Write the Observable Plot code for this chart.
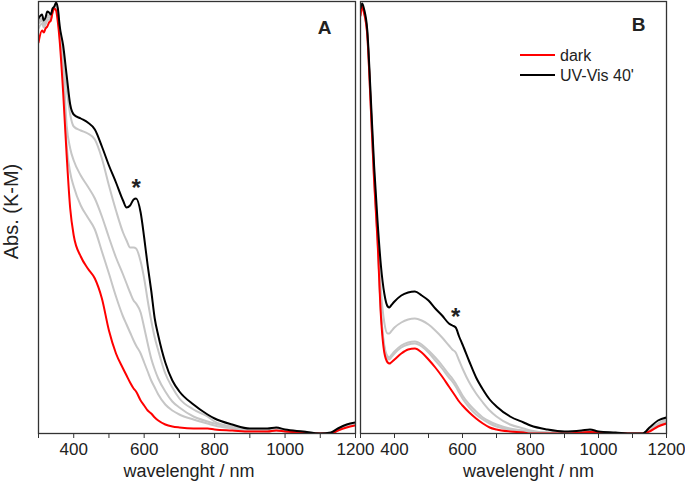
<!DOCTYPE html>
<html><head><meta charset="utf-8">
<script src="https://cdn.jsdelivr.net/npm/d3@7"></script>
<script src="https://cdn.jsdelivr.net/npm/@observablehq/plot@0.6"></script>
<style>
body{margin:0;background:#fff;}
#wrap{position:relative;width:685px;height:483px;font-family:"Liberation Sans",Arial,sans-serif;}
.panel{position:absolute;top:0;}
svg{overflow:visible;}
</style>
</head><body><div id="wrap"></div>
<script>
// ---- Panel A data (wavelength in nm, Kubelka-Munk absorbance, arbitrary units)
const wlA = [300,310,315,320,325,330,335,340,345,350,355,360,370,380,390,400,420,440,460,480,500,520,540,550,560,570,577,590,600,610,620,630,640,660,680,700,740,780,800,850,900,950,975,1000,1050,1100,1130,1150,1175,1200];
const darkA = [3.91,4.03,4.01,4.05,4.07,4.11,4.13,4.21,4.25,4.23,4.11,3.93,3.41,2.78,2.25,1.98,1.77,1.65,1.55,1.35,1.03,0.80,0.65,0.58,0.51,0.45,0.42,0.33,0.28,0.23,0.20,0.16,0.13,0.09,0.07,0.06,0.05,0.05,0.04,0.03,0.02,0.02,0.03,0.02,0.01,0,0,0.03,0.06,0.08];
const grey1A = [4.13,4.15,4.11,4.13,4.18,4.18,4.17,4.23,4.26,4.29,4.23,4.05,3.81,3.45,3.19,3.07,3.03,3.00,2.94,2.75,2.48,2.23,2.01,1.93,1.86,1.86,1.85,1.72,1.55,1.33,1.13,0.96,0.83,0.60,0.46,0.35,0.24,0.17,0.12,0.07,0.04,0.04,0.05,0.03,0.02,0,0,0.04,0.08,0.10];
const grey2A = [4.10,4.13,4.09,4.11,4.16,4.16,4.15,4.22,4.25,4.28,4.21,4.03,3.68,3.08,2.85,2.73,2.58,2.47,2.35,2.17,1.96,1.76,1.59,1.50,1.41,1.33,1.30,1.21,1.06,0.90,0.75,0.64,0.55,0.42,0.32,0.26,0.17,0.12,0.10,0.06,0.03,0.03,0.04,0.03,0.01,0,0,0.04,0.07,0.09];
const grey3A = [4.05,4.10,4.06,4.09,4.13,4.14,4.14,4.22,4.25,4.27,4.18,3.98,3.53,2.88,2.61,2.47,2.28,2.16,2.04,1.82,1.60,1.37,1.17,1.09,1.01,0.93,0.88,0.80,0.71,0.62,0.53,0.46,0.39,0.29,0.23,0.19,0.14,0.10,0.08,0.05,0.03,0.02,0.03,0.02,0.01,0,0,0.03,0.07,0.09];
const uvA = [4.15,4.19,4.13,4.16,4.22,4.21,4.19,4.25,4.27,4.31,4.25,4.08,3.88,3.58,3.29,3.19,3.15,3.11,3.04,2.87,2.68,2.51,2.33,2.26,2.28,2.34,2.35,2.21,1.96,1.68,1.43,1.15,0.98,0.71,0.53,0.42,0.29,0.19,0.15,0.09,0.05,0.05,0.06,0.04,0.02,0,0.01,0.05,0.09,0.11];

// ---- Panel B data
const wlB = [300,305,310,320,330,340,350,360,370,380,385,390,400,420,440,460,480,500,520,540,560,570,580,590,600,620,640,660,680,700,740,780,800,850,900,950,975,1000,1050,1100,1130,1150,1175,1200];
const darkB = [4.18,4.27,4.21,3.98,3.28,2.53,1.93,1.18,0.81,0.71,0.70,0.71,0.74,0.80,0.84,0.85,0.81,0.74,0.66,0.57,0.47,0.42,0.37,0.32,0.28,0.21,0.15,0.10,0.06,0.04,0.02,0.01,0,0,0,0.01,0.015,0.01,0,0,0,0.02,0.07,0.10];
const grey1B = [4.22,4.29,4.23,4.01,3.33,2.61,2.03,1.43,1.11,1.00,1.00,1.02,1.06,1.11,1.14,1.15,1.13,1.09,1.03,0.96,0.88,0.84,0.81,0.73,0.65,0.51,0.40,0.31,0.23,0.17,0.09,0.05,0.03,0.01,0.01,0.02,0.025,0.015,0,0,0,0.04,0.10,0.14];
const grey2B = [4.20,4.28,4.22,3.99,3.30,2.56,1.97,1.23,0.86,0.75,0.74,0.76,0.80,0.86,0.89,0.90,0.87,0.81,0.73,0.65,0.56,0.52,0.47,0.41,0.35,0.26,0.19,0.14,0.10,0.07,0.04,0.02,0.01,0.005,0,0.01,0.02,0.01,0,0,0,0.03,0.08,0.12];
const grey3B = [4.19,4.28,4.22,3.99,3.29,2.55,1.96,1.22,0.88,0.77,0.76,0.78,0.82,0.88,0.91,0.92,0.89,0.83,0.76,0.68,0.59,0.55,0.50,0.44,0.38,0.29,0.22,0.16,0.12,0.09,0.05,0.03,0.02,0.01,0,0.01,0.02,0.01,0,0,0,0.03,0.08,0.12];
const uvB = [4.25,4.30,4.25,4.03,3.38,2.68,2.13,1.68,1.40,1.27,1.26,1.28,1.32,1.38,1.41,1.42,1.38,1.33,1.25,1.18,1.10,1.08,1.06,0.97,0.89,0.72,0.56,0.44,0.34,0.27,0.17,0.11,0.08,0.04,0.02,0.03,0.04,0.02,0.01,0,0,0.06,0.13,0.16];

// ---- labels
const xTicks = [300,400,500,600,700,800,900,1000,1100,1200];
const xLabel = "wavelenght / nm";
const yLabel = "Abs. (K-M)";
const legendNames = ["dark", "UV-Vis 40'"];
const legendColors = ["#ff0000", "#000000"];
const starWl = [577, 580];

const FONT = "'Liberation Sans', Arial, sans-serif";
const rows = (wl, vals, s) => wl.map((w, i) => ({wl: w, v: vals[i], s}));

function panel({wl, dark, greys, uv, letter, letterDx, letterDy, left, width, mL, mR, starX, titleDx, withY}) {
  const greyRows = greys.flatMap((g, k) => rows(wl, g, "g" + k));
  const starIdx = wl.indexOf(starX);
  const marks = [
    Plot.lineY(greyRows, {x: "wl", y: "v", z: "s", stroke: "#c6c6c6", strokeWidth: 2, curve: "monotone-x", clip: true}),
    Plot.lineY(rows(wl, dark, "dark"), {x: "wl", y: "v", stroke: "#ff0000", strokeWidth: 2, curve: "monotone-x", clip: true}),
    Plot.lineY(rows(wl, uv, "uv"), {x: "wl", y: "v", stroke: "#000", strokeWidth: 2, curve: "monotone-x", clip: true}),
    Plot.frame({stroke: "#333", strokeWidth: 1.3}),
    Plot.axisX({ticks: xTicks, tickFormat: d => d % 200 === 0 ? String(d) : "", tickSize: 5, tickPadding: 4, fontSize: 17, label: null, stroke: "#333"}),
    Plot.text([xLabel], {frameAnchor: "bottom", dy: 38, dx: titleDx, fontSize: 18, lineAnchor: "middle"}),
    Plot.text([letter], {frameAnchor: "top-right", dx: letterDx, dy: letterDy, textAnchor: "end", lineAnchor: "middle", fontSize: 19, fontWeight: "bold"}),
    Plot.text([{x: starX, y: uv[starIdx]}], {x: "x", y: "y", text: () => "*", fontSize: 24, fontWeight: "bold", dy: -10, lineAnchor: "middle"})
  ];
  if (withY) marks.push(Plot.text([yLabel], {frameAnchor: "left", dx: -27, dy: -6, rotate: -90, fontSize: 20, textAnchor: "middle", lineAnchor: "middle"}));
  const p = Plot.plot({
    width, height: 483,
    marginLeft: mL, marginRight: mR, marginTop: 1, marginBottom: 50,
    x: {domain: [300, 1200]},
    y: {domain: [0, 4.32], axis: null},
    style: {fontFamily: FONT, color: "#222", background: "transparent", overflow: "visible"},
    marks
  });
  const d = document.createElement("div");
  d.className = "panel";
  d.style.left = left + "px";
  d.appendChild(p);
  return d;
}

const wrap = document.getElementById("wrap");
wrap.appendChild(panel({wl: wlA, dark: darkA, greys: [grey1A, grey2A, grey3A], uv: uvA, letter: "A", letterDx: -24, letterDy: 26, left: 0, width: 360, mL: 38, mR: 5, starX: starWl[0], titleDx: -8, withY: true}));
wrap.appendChild(panel({wl: wlB, dark: darkB, greys: [grey1B, grey2B, grey3B], uv: uvB, letter: "B", letterDx: -21, letterDy: 23, left: 355, width: 330, mL: 5, mR: 19, starX: starWl[1], titleDx: 15, withY: false}));

// legend (panel B)
const ns = "http://www.w3.org/2000/svg";
const lg = document.createElementNS(ns, "svg");
lg.setAttribute("width", 685); lg.setAttribute("height", 483);
lg.style.position = "absolute"; lg.style.left = "0"; lg.style.top = "0"; lg.style.pointerEvents = "none";
legendNames.forEach((name, i) => {
  const y = 55 + i * 20;
  const l = document.createElementNS(ns, "line");
  l.setAttribute("x1", 520); l.setAttribute("x2", 555); l.setAttribute("y1", y); l.setAttribute("y2", y);
  l.setAttribute("stroke", legendColors[i]); l.setAttribute("stroke-width", 2);
  lg.appendChild(l);
  const t = document.createElementNS(ns, "text");
  t.setAttribute("x", 560); t.setAttribute("y", y + 5.5);
  t.setAttribute("font-size", 16); t.setAttribute("font-family", FONT); t.setAttribute("fill", "#222");
  t.textContent = name;
  lg.appendChild(t);
});
wrap.appendChild(lg);
</script>
</body></html>
